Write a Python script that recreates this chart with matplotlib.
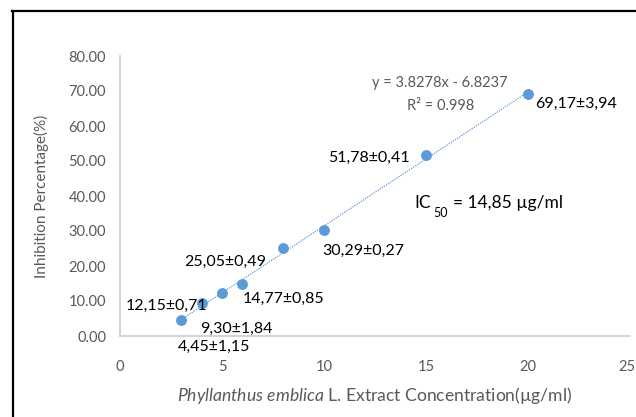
import matplotlib.pyplot as plt
import matplotlib.transforms as mtransforms
from matplotlib.lines import Line2D
import numpy as np

plt.rcParams['font.family'] = ['Lato', 'DejaVu Sans']
plt.rcParams['mathtext.fontset'] = 'custom'
plt.rcParams['mathtext.it'] = 'Lato:italic'
plt.rcParams['mathtext.rm'] = 'Lato'

# Concentration (µg/ml) and mean inhibition (%)
conc = [3, 4, 5, 6, 8, 10, 15, 20]
inhibition = [4.45, 9.30, 12.15, 14.77, 25.05, 30.29, 51.78, 69.17]
labels = ['4,45±1,15', '9,30±1,84', '12,15±0,71', '14,77±0,85',
          '25,05±0,49', '30,29±0,27', '51,78±0,41', '69,17±3,94']
# label offsets in pixels from each point
offsets = [(33, -26), (35, -25), (-56, -12), (41, -15),
           (-58, -14), (39, -21), (-57, -3), (48, -10)]

slope, intercept = 3.8278, -6.8237
r2 = 0.998

blue = '#5B9BD5'
gray = '#595959'

fig = plt.figure(figsize=(6.36, 4.17), dpi=100)
ax = fig.add_axes([120 / 636, 1 - 336 / 417, 510 / 636, 280 / 417])

# linear trendline
xt = np.array([min(conc), max(conc)])
ax.plot(xt, slope * xt + intercept, linestyle=(0, (1, 1)), color=blue, lw=0.9, zorder=1)
ax.plot(conc, inhibition, 'o', color=blue, markersize=6.8, zorder=2)

for x, y, lab, (dx, dy) in zip(conc, inhibition, labels, offsets):
    ax.annotate(lab, (x, y), xytext=(dx, dy), textcoords='offset pixels',
                ha='center', va='center', fontsize=11.5, color='black', zorder=3)

ax.text(15.7, 72.4, f'y = {slope}x - {abs(intercept)}', ha='center', va='center',
        fontsize=10.5, color=gray)
ax.text(15.7, 65.7, f'R² = {r2}', ha='center', va='center', fontsize=10.5, color=gray)

# IC50 note
ax.text(14.45, 38.0, 'IC', ha='left', va='center', fontsize=12.5, color='black')
ax.text(15.35, 35.2, '50', ha='left', va='center', fontsize=9, color='black')
ax.text(16.3, 38.0, '= 14,85 µg/ml', ha='left', va='center', fontsize=12.5, color='black')

ax.set_xlim(0, 25)
ax.set_ylim(0, 80)
ax.set_xticks(range(0, 26, 5))
ax.set_yticks(range(0, 81, 10))
ax.set_yticklabels([f'{v:.2f}' for v in range(0, 81, 10)])
ax.tick_params(length=0, labelsize=10.5, labelcolor=gray)
ax.tick_params(axis='x', pad=17)
ax.tick_params(axis='y', pad=10)

# keep the last x tick label inside the figure
last = ax.get_xticklabels()[-1]
last.set_horizontalalignment('right')
last.set_transform(last.get_transform() +
                   mtransforms.ScaledTranslation(5 / 100, 0, fig.dpi_scale_trans))

for side in ['top', 'right']:
    ax.spines[side].set_visible(False)
for side in ['left', 'bottom']:
    ax.spines[side].set_color('#D0D0D0')
    ax.spines[side].set_linewidth(1.3)

ax.set_ylabel('Inhibition Percentage(%)', fontsize=11, color=gray, labelpad=14)
ax.set_xlabel(r'$\mathit{Phyllanthus\ emblica}$ L. Extract Concentration(µg/ml)',
              fontsize=12.6, color=gray, labelpad=8)

# outer frame (left and top edges)
fig.add_artist(Line2D([12.5 / 636, 12.5 / 636], [0, 1 - 11 / 417],
                      transform=fig.transFigure, color='black', lw=1.6))
fig.add_artist(Line2D([12 / 636, 1], [1 - 11 / 417, 1 - 11 / 417],
                      transform=fig.transFigure, color='black', lw=1.6))

fig.savefig('out.png', dpi=100, facecolor='white')
